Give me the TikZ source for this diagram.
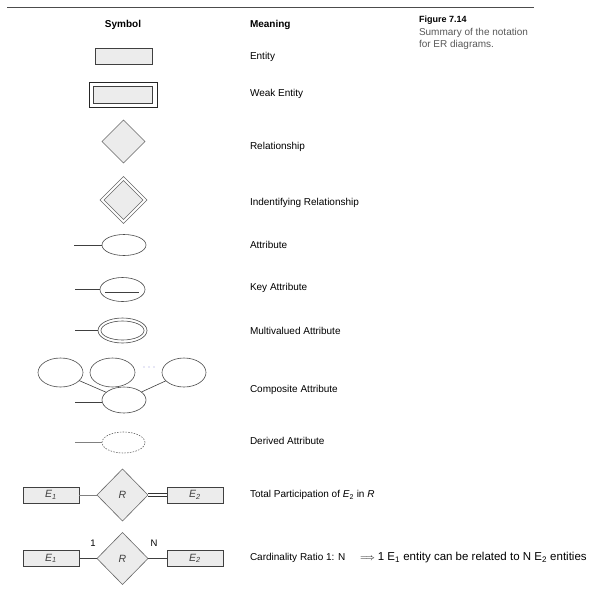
\documentclass[tikz,border=0pt]{standalone}
\usepackage{fontspec}
\setmainfont{Liberation Sans}
\usetikzlibrary{shapes.geometric}
\begin{document}
\begin{tikzpicture}[x=1pt,y=-1pt,
  every node/.style={inner sep=0pt, outer sep=0pt},
  ent/.style={rectangle, draw=black!75, fill=gray!15, line width=0.6pt, minimum width=57pt, minimum height=16pt, font=\fontsize{10.5}{11}\selectfont\itshape, text=black!75},
  rel/.style={diamond, aspect=1, draw=black!60, fill=gray!15, line width=0.6pt, minimum width=43pt, minimum height=43pt, font=\fontsize{10.5}{11}\selectfont\itshape, text=black!75},
  attr/.style={ellipse, draw=black!70, fill=white, line width=0.6pt, minimum width=44pt, minimum height=21pt},
  mean/.style={anchor=west, font=\fontsize{10}{12}\selectfont, text=black},
  head/.style={font=\fontsize{10}{12}\selectfont\bfseries, text=black},
  conn/.style={draw=black!75, line width=0.6pt},
  lconn/.style={draw=black!50, line width=0.6pt},
  card/.style={font=\fontsize{9.5}{10}\selectfont, text=black},
]
\useasboundingbox (0,0) rectangle (600,592);
\fill[white] (0,0) rectangle (600,592);

% top rule
\coordinate (tl) at (7,7);
\coordinate (tr) at (534,7);
\draw[black!70, line width=0.8pt] (tl) -- (tr);

% headers and caption
\node[head] (hsym) at (123,24.5) {Symbol};
\node[head, anchor=west] (hmean) at (250,24.5) {Meaning};
\node[anchor=west, font=\fontsize{9}{11}\selectfont\bfseries, text=black] (fig) at (419,20) {Figure 7.14};
\node[anchor=west, font=\fontsize{10}{12}\selectfont, text=black!65] (cap1) at (419,33) {Summary of the notation};
\node[anchor=west, font=\fontsize{10}{12}\selectfont, text=black!65] (cap2) at (419,45) {for ER diagrams.};

% Entity
\node[ent] (ent) at (123.5,56.5) {};
\node[mean] (m1) at (250,56.5) {Entity};

% Weak entity
\node[rectangle, draw=black!85, line width=0.8pt, fill=white, minimum width=68pt, minimum height=25pt] (wko) at (123,94.5) {};
\node[ent, minimum width=59pt, minimum height=17pt] (wki) at (123,94.5) {};
\node[mean] (m2) at (250,94) {Weak Entity};

% Relationship
\node[rel] (rel) at (123.5,141.5) {};
\node[mean] (m3) at (250,147) {Relationship};

% Identifying relationship
\node[rel, fill=white, minimum width=47pt, minimum height=47pt] (ido) at (123.5,200) {};
\node[rel, minimum width=39pt, minimum height=39pt] (idi) at (123.5,200) {};
\node[mean] (m4) at (250,203) {Indentifying Relationship};

% Attribute
\node[attr] (att) at (124,245) {};
\coordinate (attl) at (74,245);
\draw[conn] (attl) -- (att);
\node[mean] (m5) at (250,245) {Attribute};

% Key attribute
\node[attr, minimum width=45pt, minimum height=24pt] (key) at (122.5,289.5) {};
\coordinate (keyl) at (75,289.5);
\draw[conn] (keyl) -- (key);
\draw[conn] ([xshift=-17.5pt,yshift=-3pt]key.center) -- ([xshift=16.5pt,yshift=-3pt]key.center);
\node[mean] (m6) at (250,288) {Key Attribute};

% Multivalued attribute
\node[attr, minimum width=49pt, minimum height=25pt] (mvo) at (122.5,330.5) {};
\node[attr, minimum width=43pt, minimum height=19pt] (mvi) at (122.5,330.5) {};
\coordinate (mvl) at (75,330.5);
\draw[conn] (mvl) -- (mvo);
\node[mean] (m7) at (250,331) {Multivalued Attribute};

% Composite attribute
\node[attr, minimum width=45pt, minimum height=29pt] (c1) at (60.5,372.5) {};
\node[attr, minimum width=45pt, minimum height=29pt] (c2) at (112.5,372.5) {};
\node[attr, minimum width=44pt, minimum height=29pt] (c3) at (184,372.5) {};
\node[attr, minimum width=44pt, minimum height=26pt] (cb) at (124,400) {};
\coordinate (cbl) at (75,402);
\draw[conn] (cbl) -- (cbl -| cb.west);
\draw[conn] (c1) -- (cb);
\draw[conn] (c2) -- (cb);
\draw[conn] (c3) -- (cb);
\foreach \x in {144,149,154} \fill[black!35!blue!40] (\x,367) circle (0.7pt);
\node[mean] (m8) at (250,390) {Composite Attribute};

% Derived attribute
\node[attr, draw=black!60, dash pattern=on 1.5pt off 1.3pt, minimum width=43pt, minimum height=21pt] (der) at (123.5,442.5) {};
\coordinate (derl) at (75,442.5);
\draw[lconn] (derl) -- (der);
\node[mean] (m9) at (250,441) {Derived Attribute};

% Total participation
\node[ent, minimum width=56pt] (te1) at (51,495) {E\textsubscript{1}};
\node[rel, minimum width=51pt, minimum height=52pt] (trel) at (122.5,495) {R};
\node[ent, minimum width=56pt] (te2) at (195,495) {E\textsubscript{2}};
\draw[lconn] (te1) -- (trel);
\draw[draw=black!80, line width=0.5pt, double distance=2.4pt] (trel) -- (te2);
\node[mean] (m10) at (250,495) {Total Participation of \textit{E}\textsubscript{2} in \textit{R}};

% Cardinality ratio
\node[ent, minimum width=56pt] (ce1) at (51,558.5) {E\textsubscript{1}};
\node[rel, minimum width=51pt, minimum height=52pt] (crel) at (122.5,558.5) {R};
\node[ent, minimum width=56pt] (ce2) at (195,558.5) {E\textsubscript{2}};
\draw[conn] (ce1) -- (crel);
\draw[conn] (crel) -- (ce2);
\node[card] (one) at (93,543) {1};
\node[card] (nn) at (154,543) {N};
\node[mean] (m11) at (250,558) {Cardinality Ratio 1: N};
\node[anchor=west, font=\fontsize{11.5}{13}\selectfont, text=black] (m11b) at (360,558) {{\fontsize{9}{9}\selectfont$\Longrightarrow$}\hspace{3pt}1 E\textsubscript{1} entity can be related to N E\textsubscript{2} entities};
\end{tikzpicture}
\end{document}
